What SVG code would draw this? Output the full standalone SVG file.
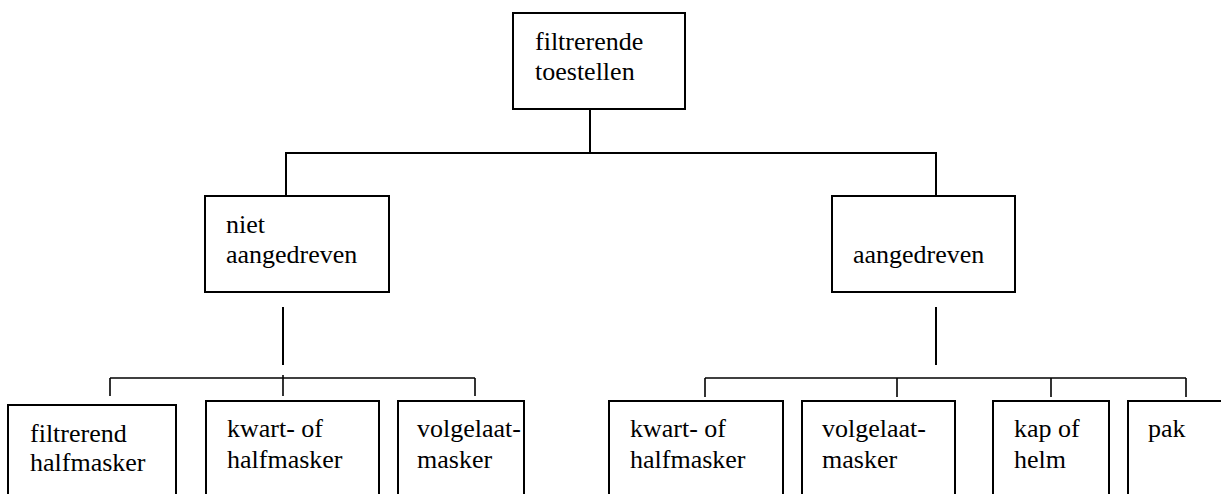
<svg xmlns="http://www.w3.org/2000/svg" width="1221" height="494" viewBox="0 0 1221 494">
<style>
.box{fill:#fff;stroke:#000;stroke-width:2}
.ln{stroke:#000;stroke-width:2;fill:none}
.ln2{stroke:#000;stroke-width:1.6;fill:none}
.t{font-family:"Liberation Serif","Times New Roman",serif;font-size:26px;fill:#000}
</style>
<rect width="1221" height="494" fill="#fff"/>
<g id="connectors">
<line class="ln" x1="590" y1="109" x2="590" y2="153"/>
<line class="ln" x1="285" y1="153" x2="937" y2="153"/>
<line class="ln" x1="286" y1="153" x2="286" y2="196"/>
<line class="ln" x1="936" y1="153" x2="936" y2="196"/>
<line class="ln" x1="283" y1="307" x2="283" y2="365"/>
<line class="ln" x1="936" y1="307" x2="936" y2="365"/>
<line class="ln2" x1="110" y1="378" x2="475" y2="378"/>
<line class="ln2" x1="110" y1="378" x2="110" y2="396"/>
<line class="ln2" x1="283" y1="375" x2="283" y2="396"/>
<line class="ln2" x1="475" y1="378" x2="475" y2="396"/>
<line class="ln2" x1="705" y1="378" x2="1186" y2="378"/>
<line class="ln2" x1="705" y1="378" x2="705" y2="397"/>
<line class="ln2" x1="897" y1="378" x2="897" y2="397"/>
<line class="ln2" x1="1051" y1="378" x2="1051" y2="397"/>
<line class="ln2" x1="1186" y1="378" x2="1186" y2="397"/>
</g>
<g id="n-root"><rect class="box" x="513" y="13" width="172" height="96"/><text class="t" x="535" y="50">filtrerende</text><text class="t" x="535" y="80">toestellen</text></g>
<g id="n-niet"><rect class="box" x="205" y="196" width="184" height="96"/><text class="t" x="226" y="233">niet</text><text class="t" x="226" y="263">aangedreven</text></g>
<g id="n-aang"><rect class="box" x="832" y="196" width="183" height="96"/><text class="t" x="853" y="263">aangedreven</text></g>
<g id="n-b1"><rect class="box" x="8" y="405" width="168" height="100"/><text class="t" x="30" y="442">filtrerend</text><text class="t" x="30" y="471">halfmasker</text></g>
<g id="n-b2"><rect class="box" x="206" y="401" width="173" height="104"/><text class="t" x="227" y="437">kwart- of</text><text class="t" x="227" y="468">halfmasker</text></g>
<g id="n-b3"><rect class="box" x="398" y="401" width="126" height="104"/><text class="t" x="417" y="437">volgelaat-</text><text class="t" x="417" y="468">masker</text></g>
<g id="n-b4"><rect class="box" x="609" y="401" width="174" height="104"/><text class="t" x="630" y="437">kwart- of</text><text class="t" x="630" y="468">halfmasker</text></g>
<g id="n-b5"><rect class="box" x="802" y="401" width="153" height="104"/><text class="t" x="822" y="437">volgelaat-</text><text class="t" x="822" y="468">masker</text></g>
<g id="n-b6"><rect class="box" x="993" y="401" width="116" height="104"/><text class="t" x="1014" y="437">kap of</text><text class="t" x="1014" y="468">helm</text></g>
<g id="n-b7"><rect class="box" x="1128" y="401" width="110" height="104"/><text class="t" x="1148" y="437">pak</text></g>
</svg>
